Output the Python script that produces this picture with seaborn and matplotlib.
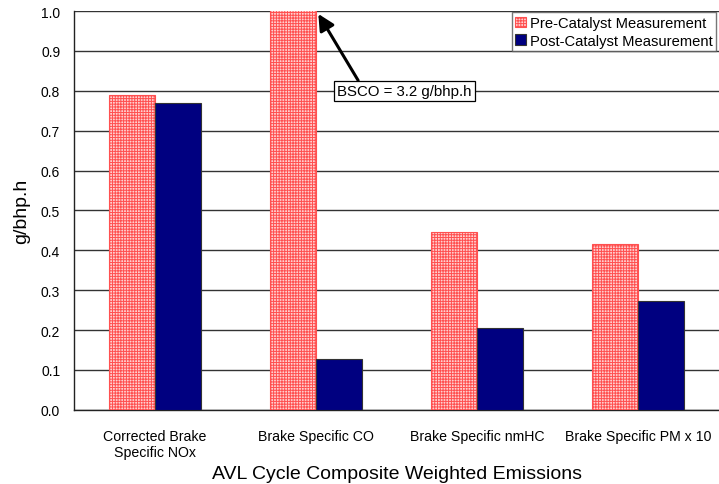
import matplotlib
matplotlib.use('Agg')
import matplotlib.pyplot as plt
import pandas as pd
import seaborn as sns

categories = ['Corrected Brake\nSpecific NOx', 'Brake Specific CO',
              'Brake Specific nmHC', 'Brake Specific PM x 10']
series = ['Pre-Catalyst Measurement', 'Post-Catalyst Measurement']
pre_values = [0.79, 3.2, 0.447, 0.415]
post_values = [0.77, 0.128, 0.205, 0.274]
y_ticks = [0.0, 0.1, 0.2, 0.3, 0.4, 0.5, 0.6, 0.7, 0.8, 0.9, 1.0]

df = pd.DataFrame({
    'category': categories * 2,
    'series': [series[0]] * 4 + [series[1]] * 4,
    'value': pre_values + post_values,
})

sns.set_style('white')
plt.rcParams['font.family'] = ['Liberation Sans', 'DejaVu Sans']
plt.rcParams['text.color'] = 'black'
plt.rcParams['axes.labelcolor'] = 'black'
plt.rcParams['xtick.color'] = 'black'
plt.rcParams['ytick.color'] = 'black'
plt.rcParams['hatch.linewidth'] = 0.7

fig = plt.figure(figsize=(7.19, 4.85), dpi=100)
ax = fig.add_axes([0.103, 0.153, 0.897, 0.822])

sns.barplot(data=df, x='category', y='value', hue='series', order=categories,
            hue_order=series, palette=['#ffd0d0', '#000080'], width=0.57,
            errorbar=None, ax=ax, saturation=1, zorder=3, legend=False)

# pink grid texture for the pre-catalyst bars, dark outline for post
n = len(categories)
bars = ax.patches[:2 * n]
for i, bar in enumerate(bars):
    if i < n:
        bar.set_hatch('++++++')
        bar.set_edgecolor('#ff5050')
        bar.set_linewidth(0.8)
    else:
        bar.set_edgecolor('#333333')
        bar.set_linewidth(0.8)

ax.set_ylim(0, 1.0)
ax.set_xlim(-0.5, n - 0.5)
ax.set_yticks(y_ticks)
ax.set_yticklabels([f'{t:.1f}' for t in y_ticks], fontsize=10)
ax.yaxis.grid(True, color='#333333', linewidth=1.0, zorder=0)
ax.set_axisbelow(True)

ax.set_xticks(range(n))
ax.set_xticklabels(categories, fontsize=10.2, linespacing=1.2)
ax.set_xticks([i - 0.5 for i in range(n + 1)], minor=True)
ax.tick_params(axis='x', which='major', length=0, pad=14)
ax.tick_params(axis='x', which='minor', length=5, width=1, color='#222222', direction='out')
ax.tick_params(axis='y', length=4, width=1, color='#222222', direction='out', pad=6)

for side in ['top', 'right']:
    ax.spines[side].set_visible(False)
for side in ['left', 'bottom']:
    ax.spines[side].set_color('#222222')
    ax.spines[side].set_linewidth(1.0)

ax.set_xlabel('AVL Cycle Composite Weighted Emissions', fontsize=14, labelpad=4)
ax.set_ylabel('g/bhp.h', fontsize=14, labelpad=8)

ax.annotate('BSCO = 3.2 g/bhp.h', xy=(1.015, 0.993), xytext=(1.55, 0.80),
            fontsize=10.8, ha='center', va='center',
            bbox=dict(boxstyle='square,pad=0.2', fc='white', ec='black', lw=0.9),
            arrowprops=dict(arrowstyle='-|>,head_length=0.9,head_width=0.45',
                            color='black', lw=2.2, shrinkA=0, shrinkB=0,
                            relpos=(0.17, 1.0)),
            zorder=5)

leg = ax.legend([bars[0], bars[n]], series, loc='upper right',
                bbox_to_anchor=(0.996, 0.997), fontsize=10.6,
                frameon=True, fancybox=False, edgecolor='#555555',
                handlelength=0.7, handleheight=0.7, handletextpad=0.3,
                borderpad=0.25, labelspacing=0.25, borderaxespad=0)
leg.get_frame().set_linewidth(1.0)
leg.set_zorder(6)

plt.savefig('out.png', dpi=100)
plt.close()
